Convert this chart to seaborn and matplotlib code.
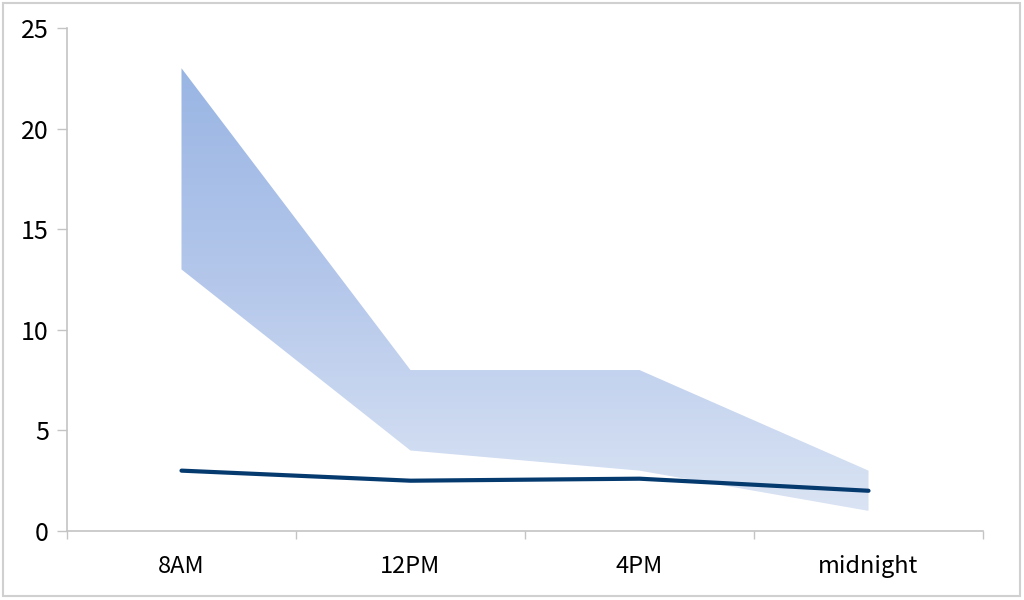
import numpy as np
import pandas as pd
import seaborn as sns
import matplotlib
matplotlib.use('Agg')
import matplotlib.pyplot as plt
from matplotlib.colors import LinearSegmentedColormap
from matplotlib.patches import Rectangle

# values
times = ['8AM', '12PM', '4PM', 'midnight']
typical = [3.0, 2.5, 2.6, 2.0]
band_low = [13, 4, 3, 1]
band_high = [23, 8, 8, 3]

sns.set_style('white')
plt.rcParams['font.family'] = ['Noto Sans CJK JP', 'DejaVu Sans']

df = pd.DataFrame({'time': times, 'pos': range(len(times)), 'typical': typical,
                   'low': band_low, 'high': band_high})

fig = plt.figure(figsize=(10.24, 6), dpi=100)
ax = fig.add_axes([67/1024, 69/600, 916/1024, 503/600])

#Gradient filled band, clipped to the polygon from fill_between
band = ax.fill_between(df['pos'], df['low'], df['high'], color='none', lw=0)
grad_cmap = LinearSegmentedColormap.from_list('band', ['#dde6f4', '#b4c7eb', '#94b2e2'])
grad = np.linspace(0, 1, 256).reshape(-1, 1)
img = ax.imshow(grad, cmap=grad_cmap, origin='lower', aspect='auto',
                extent=[-0.5, 3.5, 0, 25], zorder=1)
path = band.get_paths()[0]
img.set_clip_path(path, transform=ax.transData)

sns.lineplot(data=df, x='pos', y='typical', color='#053a6f', lw=3, ax=ax, zorder=3)

ax.set_xlim(-0.5, 3.5)
ax.set_ylim(0, 25)
ax.set_yticks(range(0, 26, 5))
ax.set_xticks(df['pos'])
ax.set_xticklabels(times)
ax.set_xticks(np.arange(-0.5, 3.6, 1), minor=True)
ax.set_xlabel('')
ax.set_ylabel('')

for s in ['top', 'right']:
    ax.spines[s].set_visible(False)
for s in ['left', 'bottom']:
    ax.spines[s].set_color('#c4c4c4')
    ax.spines[s].set_linewidth(1.2)

ax.tick_params(axis='y', left=True, length=7, width=1, color='#c4c4c4',
               labelsize=18, pad=6, labelcolor='black')
ax.tick_params(axis='x', which='major', bottom=False, length=0, labelsize=17,
               pad=17, labelcolor='black')
ax.tick_params(axis='x', which='minor', bottom=True, length=6, width=1,
               color='#c4c4c4')

fig.patches.append(Rectangle((3/1024, 4/600), 1017/1024, 593/600, transform=fig.transFigure,
                             fill=False, ec='#d0d0d0', lw=1.5))

plt.savefig('out.png', dpi=100)
